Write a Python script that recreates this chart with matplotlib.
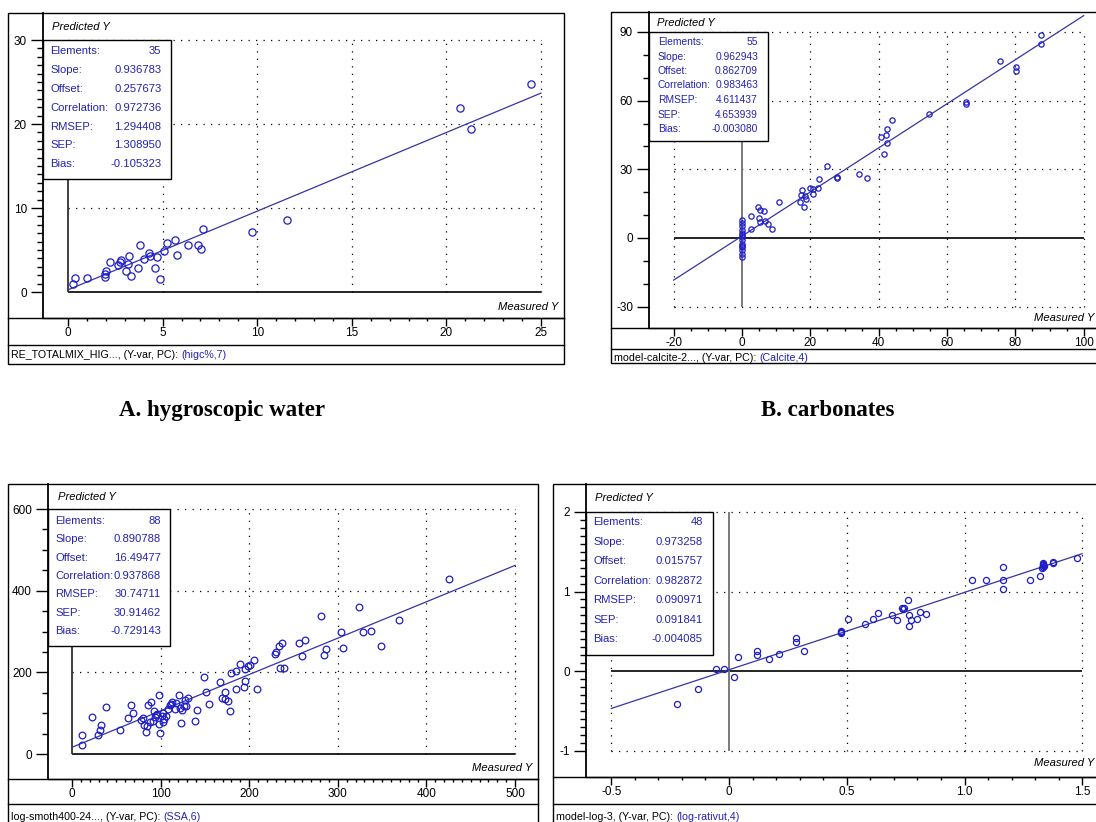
import numpy as np
import matplotlib
matplotlib.use("Agg")
import matplotlib.pyplot as plt
import matplotlib.transforms as mtransforms
from matplotlib import font_manager
from matplotlib.patches import Rectangle
from matplotlib.lines import Line2D
from matplotlib.ticker import FixedLocator

# ---- values ----
stat_names = ["Elements:", "Slope:", "Offset:", "Correlation:", "RMSEP:", "SEP:", "Bias:"]

# A. hygroscopic water
a_stats = ["35", "0.936783", "0.257673", "0.972736", "1.294408", "1.308950", "-0.105323"]
a_x = [0.26, 0.35, 1.0, 1.93, 1.97, 2.03, 2.22, 2.62, 2.73, 2.81, 3.05, 3.15, 3.25, 3.34, 3.72,
       3.82, 4.03, 4.27, 4.33, 4.6, 4.72, 4.86, 5.09, 5.23, 5.67, 5.76, 6.35, 6.85, 7.02, 7.12,
       9.7, 11.6, 20.7, 21.3, 24.45]
a_y = [0.99, 1.7, 1.7, 1.8, 2.2, 2.5, 3.6, 3.2, 3.6, 3.8, 2.5, 3.3, 4.3, 1.9, 2.8,
       5.6, 3.9, 4.6, 4.3, 2.8, 4.2, 1.5, 4.9, 5.8, 6.2, 4.4, 5.6, 5.6, 5.1, 7.5,
       7.2, 8.6, 21.9, 19.4, 24.8]
a_xticks = [0, 5, 10, 15, 20, 25]
a_xlabels = ["0", "5", "10", "15", "20", "25"]
a_yticks = [0, 10, 20, 30]
a_ylabels = ["0", "10", "20", "30"]
a_caption = ["RE_TOTALMIX_HIG..., (Y-var, PC): ", "(higc%,7)"]

# B. carbonates
b_stats = ["55", "0.962943", "0.862709", "0.983463", "4.611437", "4.653939", "-0.003080"]
b_x = [0, 0, 0, 0, 0, 0, 0, 0, 0, 0, 0, 0, 0, 0,
       2.6, 2.6, 4.6, 5.3, 6.5, 5.0, 5.3, 6.7, 7.5, 8.9, 10.7, 17.0, 17.3, 17.6, 18.2, 18.5,
       18.7, 20.0, 20.7, 20.8, 22.3, 22.5, 24.9, 27.9, 27.9, 34.2, 36.5, 40.7, 41.5, 42.0,
       42.3, 42.4, 43.8, 54.8, 65.5, 65.5, 75.5, 80.2, 80.2, 87.4, 87.4]
b_y = [7.8, 6.6, 5.1, 3.7, 2.2, 1.2, 0.4, -1.0, -2.5, -3.3, -4.0, -5.4, -6.9, -8.3,
       9.5, 3.9, 13.6, 12.4, 12.0, 8.6, 6.9, 7.3, 6.1, 3.9, 15.9, 15.9, 18.9, 21.1, 13.6, 18.2,
       17.0, 21.8, 21.4, 19.4, 21.8, 25.8, 31.4, 26.7, 26.1, 27.8, 26.2, 44.3, 36.7, 45.0,
       47.6, 41.3, 51.4, 54.2, 59.4, 58.7, 77.3, 74.7, 72.9, 88.6, 84.7]
b_xticks = [-20, 0, 20, 40, 60, 80, 100]
b_xlabels = ["-20", "0", "20", "40", "60", "80", "100"]
b_yticks = [-30, 0, 30, 60, 90]
b_ylabels = ["-30", "0", "30", "60", "90"]
b_caption = ["model-calcite-2..., (Y-var, PC): ", "(Calcite,4)"]

# C. (bottom left)
c_stats = ["88", "0.890788", "16.49477", "0.937868", "30.74711", "30.91462", "-0.729143"]
c_x = [10.9, 10.9, 22.6, 29.2, 31.1, 32.3, 38.9, 54.5, 63.4, 66.1,
       69.3, 77.8, 79.8, 80.9, 83.7, 84.8, 85.6, 88.7, 91.4, 93.4,
       95.3, 98.1, 98.4, 99.2, 101.2, 103.1, 104.3, 106.2, 107.8, 110.1,
       116.7, 117.5, 120.6, 121.4, 122.6, 123.7, 127.2, 128.4, 130.4, 138.9,
       140.9, 149.0, 151.0, 154.5, 166.5, 169.3, 172.4, 173.2, 175.9, 178.2,
       179.0, 184.8, 185.2, 189.9, 194.6, 195.3, 195.3, 198.4, 201.2, 205.4,
       209.0, 229.6, 230.7, 233.5, 234.2, 236.6, 239.3, 256.0, 259.9, 263.4,
       281.3, 284.8, 286.8, 303.5, 306.2, 324.1, 328.8, 337.7, 348.2, 368.9,
       425.3, 96.3, 103.0, 111.4, 88.0, 92.0, 113.0, 126.0]
c_y = [22, 47, 90, 46, 58, 70, 115, 60, 87, 120,
       100, 84, 88, 72, 54, 68, 121, 127, 82, 91,
       96, 144, 73, 51, 92, 100, 86, 92, 110, 121,
       110, 125, 144, 112, 76, 107, 133, 118, 137, 80,
       107, 189, 152, 122, 176, 137, 153, 135, 131, 106,
       198, 204, 158, 221, 163, 180, 207, 215, 219, 229,
       160, 245, 250, 264, 211, 272, 211, 272, 239, 278,
       337, 243, 256, 298, 260, 359, 300, 301, 264, 329,
       429, 97, 78, 122, 78, 105, 128, 118]
c_xticks = [0, 100, 200, 300, 400, 500]
c_xlabels = ["0", "100", "200", "300", "400", "500"]
c_yticks = [0, 200, 400, 600]
c_ylabels = ["0", "200", "400", "600"]
c_caption = ["log-smoth400-24..., (Y-var, PC): ", "(SSA,6)"]

# D. (bottom right)
d_stats = ["48", "0.973258", "0.015757", "0.982872", "0.090971", "0.091841", "-0.004085"]
d_x = [-0.22, -0.13, -0.055, -0.02, 0.022, 0.037, 0.117, 0.117, 0.168, 0.214, 0.286, 0.286,
       0.319, 0.475, 0.475, 0.504, 0.576, 0.611, 0.633, 0.693, 0.714, 0.733, 0.745, 0.76,
       0.763, 0.766, 0.774, 0.80, 0.813, 0.838, 1.03, 1.09, 1.163, 1.163, 1.165, 1.28,
       1.32, 1.334, 1.334, 1.334, 1.337, 1.377, 1.377, 1.479, 1.334, 1.33, 0.475, 0.74]
d_y = [-0.42, -0.23, 0.02, 0.03, -0.07, 0.18, 0.255, 0.20, 0.155, 0.21, 0.42, 0.36,
       0.25, 0.50, 0.48, 0.65, 0.59, 0.65, 0.73, 0.70, 0.64, 0.79, 0.79, 0.89,
       0.70, 0.57, 0.64, 0.66, 0.74, 0.72, 1.15, 1.15, 1.31, 1.14, 1.03, 1.14,
       1.19, 1.36, 1.33, 1.31, 1.32, 1.37, 1.36, 1.42, 1.34, 1.30, 0.49, 0.78]
d_xticks = [-0.5, 0, 0.5, 1.0, 1.5]
d_xlabels = ["-0.5", "0", "0.5", "1.0", "1.5"]
d_yticks = [-1, 0, 1, 2]
d_ylabels = ["-1", "0", "1", "2"]
d_caption = ["model-log-3, (Y-var, PC): ", "(log-rativut,4)"]

W, H = 1096, 822
TXT_BLUE = "#2323b4"
PT_BLUE = "#1e1ec8"
LINE_BLUE = "#3434a6"

# condensed face like the screenshot if it is there
try:
    font_manager.findfont(font_manager.FontProperties(family="Liberation Sans Narrow"),
                          fallback_to_default=False)
    SANS, k = "Liberation Sans Narrow", 1.0
except ValueError:
    SANS, k = "Liberation Sans", 0.85
plt.rcParams["font.family"] = [SANS, "DejaVu Sans"]

fig = plt.figure(figsize=(W / 100, H / 100), dpi=100)
# pixel coords of the picture, y going down
pix = mtransforms.Affine2D().scale(1 / W, -1 / H).translate(0, 1) + fig.transFigure


def draw_panel(lay, xs, ys, stats, xticks, xlabels, yticks, ylabels, xminor, yminor, caption):
    l, t, r, b = lay["frame"]
    for art in [Rectangle((l, t), r - l, b - t, transform=pix, fill=False, ec="black", lw=1.0, zorder=3),
                Line2D([l, r], [lay["strip_y"]] * 2, transform=pix, color="black", lw=1.0, zorder=3),
                Line2D([l, r], [lay["cap_y"]] * 2, transform=pix, color="black", lw=1.0, zorder=3)]:
        fig.add_artist(art)

    axl, axb = lay["axis_x"], lay["strip_y"]
    ax = fig.add_axes([axl / W, 1 - axb / H, (r - axl) / W, (axb - t) / H])
    ox, oy = lay["origin"]
    kx, ky = lay["ppu"]
    ax.set_xlim((axl - ox) / kx, (r - ox) / kx)
    ax.set_ylim((oy - axb) / ky, (oy - t) / ky)
    for s in ["top", "right"]:
        ax.spines[s].set_visible(False)
    ax.spines["left"].set_linewidth(1.3)
    ax.spines["bottom"].set_linewidth(1.0)

    ax.xaxis.set_major_locator(FixedLocator(xticks))
    ax.set_xticklabels(xlabels)
    ax.yaxis.set_major_locator(FixedLocator(yticks))
    ax.set_yticklabels(ylabels)
    ax.xaxis.set_minor_locator(FixedLocator(np.arange(xticks[0], xticks[-1] + xminor / 2, xminor)))
    ax.yaxis.set_minor_locator(FixedLocator(np.arange(yticks[0], yticks[-1] + yminor / 2, yminor)))
    ax.tick_params(axis="y", which="major", direction="out", length=8.5, width=1.0, pad=3,
                   labelsize=10 * k)
    ax.tick_params(axis="y", which="minor", direction="out", length=4, width=1.0)
    ax.tick_params(axis="x", which="major", direction="out", length=5.5, width=1.0, pad=1,
                   labelsize=10 * k)
    ax.tick_params(axis="x", which="minor", direction="out", length=2.5, width=1.0)

    # dotted grid inside the data range, solid zero lines
    x0, x1 = xticks[0], xticks[-1]
    y0, y1 = yticks[0], yticks[-1]
    ax.hlines([v for v in yticks if v != 0], x0, x1, colors="black", lw=0.9, linestyles=(0, (1, 5)))
    ax.vlines([v for v in xticks if v != 0], y0, y1, colors="black", lw=0.9, linestyles=(0, (1, 5)))
    ax.hlines(0, x0, x1, colors="black", lw=1.2)
    ax.vlines(0, y0, y1, colors=lay["zero_col"], lw=1.3)

    slope, offset = float(stats[1]), float(stats[2])
    xx = np.array([x0, x1])
    ax.plot(xx, slope * xx + offset, color=LINE_BLUE, lw=0.9)
    ax.plot(xs, ys, "o", mfc="none", mec=PT_BLUE, ms=lay["ms"], mew=0.9)

    # statistics box
    bl_r, bl_t, bl_b = lay["box"]
    fig.add_artist(Rectangle((axl, bl_t), bl_r - axl, bl_b - bl_t, transform=pix,
                             fc="white", ec="black", lw=1.0, zorder=4))
    for i, (name, val) in enumerate(zip(stat_names, stats)):
        yy = lay["row0"] + i * lay["drow"]
        fig.text(lay["lab_x"], yy, name, transform=pix, color=TXT_BLUE, va="center",
                 size=lay["fs"] * k, zorder=5)
        fig.text(lay["val_x"], yy, val, transform=pix, color=TXT_BLUE, va="center", ha="right",
                 size=lay["fs"] * k, zorder=5)

    px, py = lay["pred"]
    fig.text(px, py, "Predicted Y", transform=pix, style="italic", va="center", size=9.5 * k, zorder=5)
    mx, my = lay["meas"]
    fig.text(mx, my, "Measured Y", transform=pix, style="italic", va="center", ha="right",
             size=9.5 * k, zorder=5)

    t1 = fig.text(l + 3, lay["cap_text_y"], caption[0], transform=pix, va="center",
                  size=9 * k, zorder=5)
    ax.annotate(caption[1], xy=(1, 0), xycoords=t1, va="bottom", ha="left", color=TXT_BLUE,
                size=9 * k, annotation_clip=False)
    return ax


lay_a = dict(frame=(8, 13, 564, 364), axis_x=43, strip_y=318, cap_y=345, cap_text_y=355,
             origin=(68, 292), ppu=(18.92, 8.4), zero_col="#303030", ms=5.2,
             box=(171, 40, 179), row0=51, drow=18.9, lab_x=50.5, val_x=161.5, fs=9.5,
             pred=(52, 27), meas=(558, 307))
lay_b = dict(frame=(611, 12, 1110, 363), axis_x=649, strip_y=328, cap_y=349, cap_text_y=358,
             origin=(742, 238), ppu=(3.417, 2.289), zero_col="#707070", ms=3.8,
             box=(768, 32, 141), row0=42, drow=14.5, lab_x=658, val_x=758, fs=8.7,
             pred=(657, 23), meas=(1094, 318))
lay_c = dict(frame=(8, 484, 538, 835), axis_x=48, strip_y=779, cap_y=804, cap_text_y=817,
             origin=(72, 754), ppu=(0.886, 0.4083), zero_col="#303030", ms=4.8,
             box=(170, 509, 646), row0=521, drow=18.3, lab_x=55, val_x=161, fs=9.5,
             pred=(58, 497), meas=(532, 768))
lay_d = dict(frame=(553, 484, 1110, 835), axis_x=586, strip_y=777, cap_y=804, cap_text_y=817,
             origin=(729, 671), ppu=(235.5, 79.5), zero_col="#707070", ms=4.4,
             box=(713, 512, 655), row0=522, drow=19.5, lab_x=593.5, val_x=703, fs=9.5,
             pred=(595, 498), meas=(1094, 763))

draw_panel(lay_a, a_x, a_y, a_stats, a_xticks, a_xlabels, a_yticks, a_ylabels, 1, 1, a_caption)
draw_panel(lay_b, b_x, b_y, b_stats, b_xticks, b_xlabels, b_yticks, b_ylabels, 5, 10, b_caption)
draw_panel(lay_c, c_x, c_y, c_stats, c_xticks, c_xlabels, c_yticks, c_ylabels, 10, 50, c_caption)
draw_panel(lay_d, d_x, d_y, d_stats, d_xticks, d_xlabels, d_yticks, d_ylabels, 0.1, 0.1, d_caption)

for txt, x in [("A. hygroscopic water", 222), ("B. carbonates", 828)]:
    fig.text(x, 410, txt, transform=pix, ha="center", va="center", family="Liberation Serif",
             weight="bold", size=16.5)

fig.savefig("out.png", dpi=100)
